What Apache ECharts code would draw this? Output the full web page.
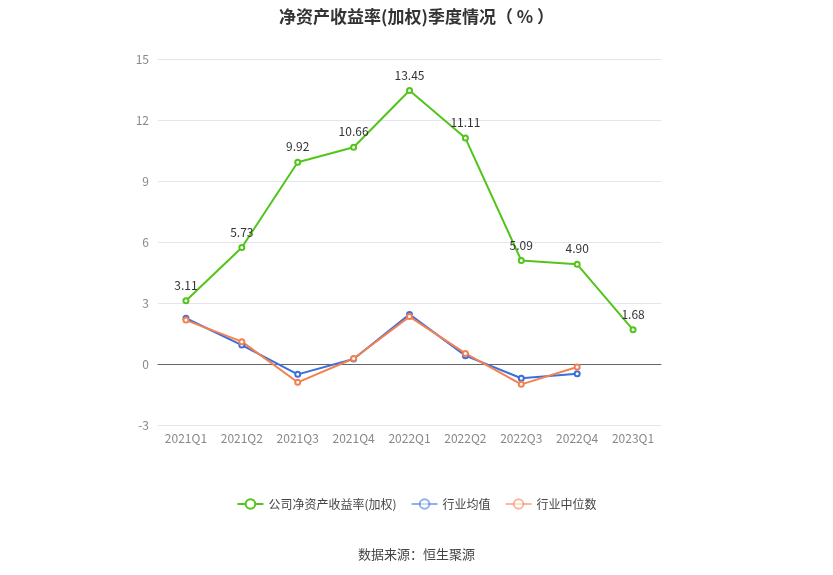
<!DOCTYPE html>
<html><head><meta charset="utf-8">
<script src="https://cdn.jsdelivr.net/npm/echarts@6/dist/echarts.min.js"></script>
<style>html,body{margin:0;padding:0;background:#fff}#c{width:833px;height:575px}</style>
</head><body><div id="c"></div>
<script>
const categories = ['2021Q1','2021Q2','2021Q3','2021Q4','2022Q1','2022Q2','2022Q3','2022Q4','2023Q1'];
const companyROE = [3.11,5.73,9.92,10.66,13.45,11.11,5.09,4.90,1.68];
const industryAvg = [2.25,0.93,-0.51,0.25,2.44,0.41,-0.70,-0.48,null];
const industryMedian = [2.16,1.10,-0.90,0.27,2.33,0.52,-1.00,-0.15,null];
const yTicks = {min:-3,max:15,interval:3};

const chart = echarts.init(document.getElementById('c'));
const font = '"Noto Sans CJK SC","Noto Sans",sans-serif';
chart.setOption({
  animation:false,
  textStyle:{fontFamily:font},
  title:[{text:'净资产收益率(加权)季度情况（ % ）',left:'center',top:3,textStyle:{fontSize:17,fontWeight:'bold',color:'#333',fontFamily:font}},
         {text:'数据来源：恒生聚源',left:'center',top:543,textStyle:{fontSize:13,fontWeight:'normal',color:'#444',fontFamily:font}}],
  legend:{bottom:60,itemWidth:26,itemHeight:12,itemGap:14,textStyle:{color:'#444',fontSize:12},
    data:[{name:'公司净资产收益率(加权)'},{name:'行业均值',itemStyle:{opacity:0.55},lineStyle:{opacity:0.55}},{name:'行业中位数',itemStyle:{opacity:0.55},lineStyle:{opacity:0.55}}]},
  grid:{left:158,right:172,top:59,bottom:150},
  xAxis:{type:'category',data:categories,boundaryGap:true,
    axisLine:{onZero:true,lineStyle:{color:'#666'}},axisTick:{alignWithLabel:true,lineStyle:{color:'#666'}},
    axisLabel:{color:'#888',fontSize:12,margin:7}},
  yAxis:{type:'value',min:yTicks.min,max:yTicks.max,interval:yTicks.interval,
    axisLine:{show:false},axisTick:{show:false},axisLabel:{color:'#888',fontSize:12,margin:9},
    splitLine:{lineStyle:{color:'#e3e6ee'}}},
  series:[
    {name:'公司净资产收益率(加权)',type:'line',data:companyROE,symbol:'emptyCircle',symbolSize:5,
     itemStyle:{color:'#52c41a'},lineStyle:{width:2,color:'#52c41a'},
     label:{show:true,position:'top',color:'#333',fontSize:12,distance:6,formatter:p=>p.value.toFixed(2)}},
    {name:'行业均值',type:'line',data:industryAvg,symbol:'emptyCircle',symbolSize:5,
     itemStyle:{color:'#3a6fdc'},lineStyle:{width:2,color:'#3a6fdc'}},
    {name:'行业中位数',type:'line',data:industryMedian,symbol:'emptyCircle',symbolSize:5,
     itemStyle:{color:'#f5804f'},lineStyle:{width:2,color:'#f5804f'}}
  ]
});
</script></body></html>
